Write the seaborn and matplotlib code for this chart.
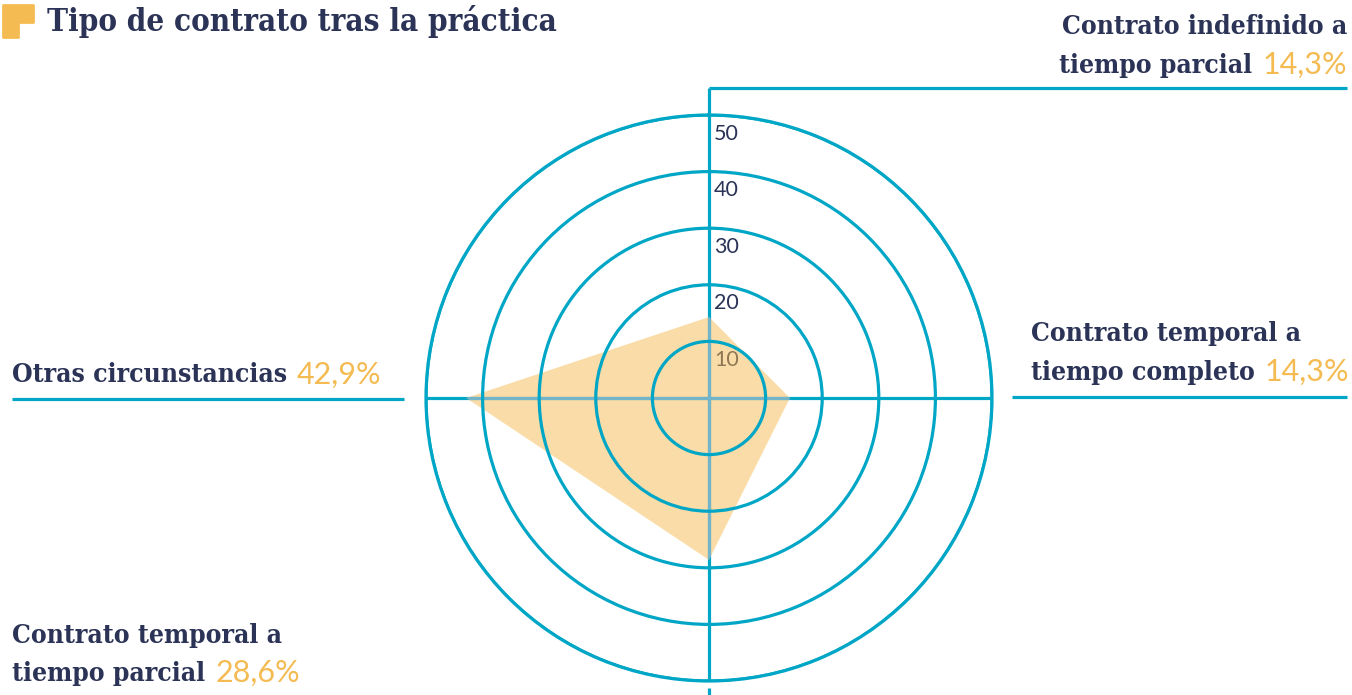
import numpy as np
import matplotlib
matplotlib.use("Agg")
from matplotlib import pyplot as plt
from matplotlib.patches import Polygon
from matplotlib.transforms import offset_copy
import seaborn as sns

# Chart data
categories = ["Contrato indefinido a\ntiempo parcial",
              "Contrato temporal a\ntiempo completo",
              "Contrato temporal a\ntiempo parcial",
              "Otras circunstancias"]
values = [14.3, 14.3, 28.6, 42.9]
value_labels = ["14,3%", "14,3%", "28,6%", "42,9%"]
r_ticks = [10, 20, 30, 40, 50]
title = "Tipo de contrato tras la práctica"

W, H = 1352, 695
NAVY = "#2b3356"
TEAL = "#00a6c6"
ORANGE = "#f4bb52"

sns.set_theme(style="white")
plt.rcParams["font.family"] = ["DejaVu Serif"]

fig = plt.figure(figsize=(W / 100, H / 100), dpi=100)
fig.patch.set_facecolor("white")
renderer = fig.canvas.get_renderer()


def fx(x):
    return x / W


def fy(y):
    return 1 - y / H


LABEL_FONT = dict(family="DejaVu Serif", stretch="condensed", weight="bold",
                  size=19)
PCT_FONT = dict(family="Lato", size=22)


def put_line(x, y, parts, ha="left"):
    # parts: list of (text, color, font) drawn next to each other
    if ha == "right":
        parts = parts[::-1]
    cur = x
    for txt, color, font in parts:
        t = fig.text(fx(cur), fy(y), txt, color=color, ha=ha, va="center",
                     **font)
        bb = t.get_window_extent(renderer)
        if ha == "left":
            cur = bb.x1 + 10
        else:
            cur = bb.x0 - 10


# Polar chart
ax = fig.add_axes([fx(426), fy(681), 566 / W, 566 / H], projection="polar")
ax.set_theta_zero_location("N")
ax.set_theta_direction(-1)
ax.set_ylim(0, r_ticks[-1])
ax.set_facecolor("none")
ax.set_xticks([])
ax.set_yticks(r_ticks)
ax.set_yticklabels([])
ax.xaxis.grid(False)
ax.yaxis.grid(True, color=TEAL, lw=2.3, zorder=3)
ax.set_axisbelow(False)
ax.spines["polar"].set_color(TEAL)
ax.spines["polar"].set_linewidth(2.3)

n = len(values)
angles = [2 * np.pi * i / n for i in range(n)]

# axis spokes (under the polygon)
for a in angles:
    ax.plot([a, a], [0, r_ticks[-1]], color=TEAL, lw=2.3, zorder=0.5,
            solid_capstyle="butt")

# radial tick labels (under the polygon as well)
tick_tr = offset_copy(ax.transData, fig=fig, x=5, y=0, units="dots")
for r in r_ticks:
    ax.text(0, r - 3.3, str(r), transform=tick_tr, ha="left", va="center",
            color=NAVY, family="Lato", size=15.5, zorder=0.8)

poly = ax.fill(angles + angles[:1], values + values[:1], color=ORANGE,
               alpha=0.5, lw=0, zorder=1)[0]

# spokes seen through the filled area look lighter
for a in angles:
    ln, = ax.plot([a, a], [0, r_ticks[-1]], color="#74b4c9", lw=2.3,
                  zorder=1.5, solid_capstyle="butt")
    ln.set_clip_path(poly)

# connectors from the chart to the labels
lk = dict(color=TEAL, lw=2.3, solid_capstyle="butt")
fig.add_artist(plt.Line2D([fx(709), fx(709)], [fy(114), fy(88)], **lk))
fig.add_artist(plt.Line2D([fx(709), fx(1347)], [fy(88), fy(88)], **lk))
fig.add_artist(plt.Line2D([fx(1012), fx(1347)], [fy(397), fy(397)], **lk))
fig.add_artist(plt.Line2D([fx(12), fx(404)], [fy(399), fy(399)], **lk))
fig.add_artist(plt.Line2D([fx(709), fx(709)], [fy(688), fy(697)], **lk))

# category labels
l0, l1 = categories[0].split("\n")
put_line(1347, 27, [(l0, NAVY, LABEL_FONT)], ha="right")
put_line(1347, 65, [(l1, NAVY, LABEL_FONT),
                    (value_labels[0], ORANGE, PCT_FONT)], ha="right")

l0, l1 = categories[1].split("\n")
put_line(1031, 333, [(l0, NAVY, LABEL_FONT)])
put_line(1031, 372, [(l1, NAVY, LABEL_FONT),
                     (value_labels[1], ORANGE, PCT_FONT)])

l0, l1 = categories[2].split("\n")
put_line(12, 635, [(l0, NAVY, LABEL_FONT)])
put_line(12, 673, [(l1, NAVY, LABEL_FONT),
                   (value_labels[2], ORANGE, PCT_FONT)])

put_line(12, 375, [(categories[3], NAVY, LABEL_FONT),
                   (value_labels[3], ORANGE, PCT_FONT)])

# title with its small icon
icon = [(3, 5), (33, 5), (33, 22), (18, 22), (18, 37), (3, 37)]
fig.add_artist(Polygon([(fx(x), fy(y)) for x, y in icon], closed=True,
                       transform=fig.transFigure, color=ORANGE,
                       joinstyle="round", lw=2))
fig.text(fx(47), fy(21), title, color=NAVY, ha="left", va="center",
         family="DejaVu Serif", stretch="condensed", weight="bold", size=22.5)

fig.savefig("out.png", dpi=100, facecolor="white")
